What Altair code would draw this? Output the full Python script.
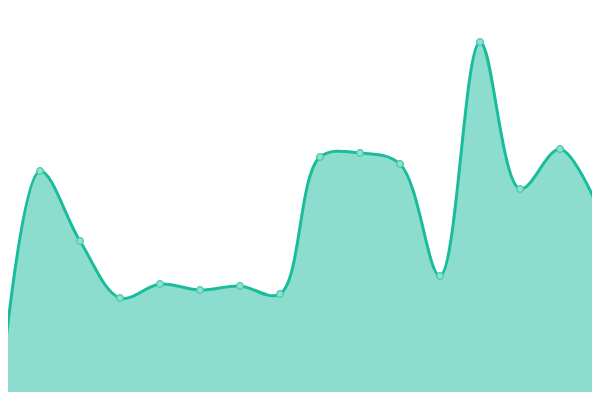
import altair as alt
import pandas as pd

idx = list(range(16))
values = [3, 229, 159, 102, 116, 110, 114, 106, 243, 247, 236, 124, 358, 211, 251, 188]

df = pd.DataFrame({"i": idx, "v": values})

x = alt.X("i:Q", axis=None, scale=alt.Scale(domain=[0, 15], nice=False, zero=False))
y = alt.Y("v:Q", axis=None, scale=alt.Scale(domain=[0, 400], nice=False))

base = alt.Chart(df).encode(x=x, y=y)

area = base.mark_area(
    interpolate="catmull-rom", color="#1abc9c", fillOpacity=0.5, clip=True,
    line={"color": "#1abc9c", "strokeWidth": 3}
)
pts = base.mark_circle(
    size=44, fill="#8ee0d0", stroke="#45c7ae", strokeWidth=1.3,
    opacity=1, clip=True
)

chart = (area + pts).properties(
    width=600, height=400,
    padding={"left": -8, "top": -8, "right": -8, "bottom": -8},
    autosize=alt.AutoSizeParams(type="none")
).configure_view(stroke=None)

chart.save("out.html", embed_options={"renderer": "svg", "actions": False})
